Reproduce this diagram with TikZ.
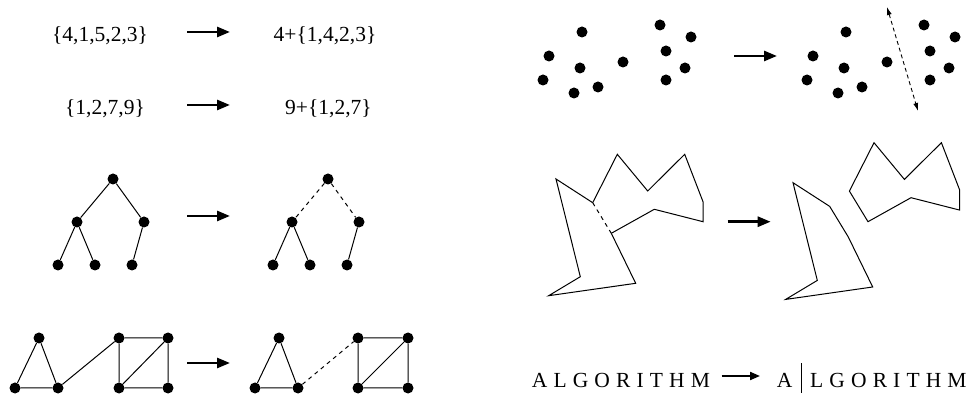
\documentclass[tikz,border=0pt]{standalone}
\usepackage{fontspec}
\setmainfont{Liberation Serif}
\usetikzlibrary{arrows.meta}
\tikzset{
  dot/.style={circle, fill=black, inner sep=0pt, minimum size=11pt},
  link/.style={line width=1pt},
  cut/.style={line width=1pt, dash pattern=on 4pt off 4pt},
  bigarrow/.style={-{Triangle[length=13pt,width=10pt]}, line width=2.7pt},
  smallarrow/.style={-{Triangle[length=10pt,width=8pt]}, line width=2pt},
  splitarrow/.style={{Latex[length=8pt,width=5pt]}-{Latex[length=8pt,width=5pt]}, line width=0.9pt, dash pattern=on 4pt off 3pt},
  setlabel/.style={font=\fontsize{21.5}{26}\selectfont, inner sep=0pt, anchor=base},
  wordlabel/.style={font=\fontsize{21.5}{26}\selectfont\addfontfeature{LetterSpace=28.5}, inner sep=0pt, anchor=base west}
}
\begin{document}
\begin{tikzpicture}[x=1pt,y=-1pt]
    \useasboundingbox (0,0) rectangle (975,395);
    % numbers
    \node[setlabel] (setA) at (100,41.7) {\{4,1,5,2,3\}};
    \node[setlabel] (pickA) at (325,41.7) {4+\{1,4,2,3\}};
    \node[setlabel] (setB) at (105,114.7) {\{1,2,7,9\}};
    \node[setlabel] (pickB) at (328.5,114.7) {9+\{1,2,7\}};
    \coordinate (arA1) at (187,32);  \coordinate (arA2) at (230,32);
    \coordinate (arB1) at (187,105); \coordinate (arB2) at (230,105);
    \draw[bigarrow] (arA1)--(arA2);
    \draw[bigarrow] (arB1)--(arB2);
    % trees
    \node[dot] (root) at (113,179) {};
    \node[dot] (midl) at (77,222) {};
    \node[dot] (midr) at (144,222) {};
    \node[dot] (leafa) at (58,265) {};
    \node[dot] (leafb) at (95,265) {};
    \node[dot] (leafc) at (132,265) {};
    \draw[link] (root)--(midl) (root)--(midr);
    \draw[link] (midl)--(leafa) (midl)--(leafb) (midr)--(leafc);
    \node[dot] (root2) at (328,179) {};
    \node[dot] (midl2) at (292,222) {};
    \node[dot] (midr2) at (359,222) {};
    \node[dot] (leafa2) at (273,265) {};
    \node[dot] (leafb2) at (310,265) {};
    \node[dot] (leafc2) at (347,265) {};
    \draw[cut] (root2)--(midl2) (root2)--(midr2);
    \draw[link] (midl2)--(leafa2) (midl2)--(leafb2) (midr2)--(leafc2);
    \coordinate (arC1) at (187,216); \coordinate (arC2) at (230,216);
    \draw[bigarrow] (arC1)--(arC2);
    % graphs
    \node[dot] (tri) at (39,338) {};
    \node[dot] (tril) at (15,388) {};
    \node[dot] (trir) at (58,388) {};
    \node[dot] (sqa) at (119,338) {};
    \node[dot] (sqb) at (168,338) {};
    \node[dot] (sqc) at (119,388) {};
    \node[dot] (sqd) at (168,388) {};
    \draw[link] (tri)--(tril)--(trir)--(tri) (trir)--(sqa);
    \draw[link] (sqa)--(sqb)--(sqd)--(sqc)--(sqa) (sqc)--(sqb);
    \node[dot] (tri2) at (279,338) {};
    \node[dot] (tril2) at (255,388) {};
    \node[dot] (trir2) at (298,388) {};
    \node[dot] (sqa2) at (358,338) {};
    \node[dot] (sqb2) at (408,338) {};
    \node[dot] (sqc2) at (358,388) {};
    \node[dot] (sqd2) at (408,388) {};
    \draw[link] (tri2)--(tril2)--(trir2)--(tri2);
    \draw[link] (sqa2)--(sqb2)--(sqd2)--(sqc2)--(sqa2) (sqc2)--(sqb2);
    \draw[cut] (trir2)--(sqa2);
    \coordinate (arD1) at (187,363); \coordinate (arD2) at (230,363);
    \draw[bigarrow] (arD1)--(arD2);
    % point sets
    \foreach \dx/\set in {0/p,264/q}
      \foreach \x/\y [count=\i] in {582/32,549/56,580/68,543/80,574/93,598/87,623/62,660/25,691/37,666/51,685/68,666/80}
        \node[dot] (\set\i) at (\x+\dx,\y) {};
    \coordinate (splittop) at (887,7); \coordinate (splitbot) at (918,111);
    \draw[splitarrow] (splittop)--(splitbot);
    \coordinate (arE1) at (734,56); \coordinate (arE2) at (777,56);
    \draw[bigarrow] (arE1)--(arE2);
    % polygons
    \draw[link] (611.3,233.3)--(635.7,283.3)--(548.7,295.7)--(580.3,276.7)--(556,179)--(592.7,202.7);
    \draw[link] (592.7,202.7)--(617.3,154.3)--(647.7,191)--(684.7,154.3)--(703,201.7)--(703,221.7)--(654.3,209.3)--(611.3,233.3);
    \draw[cut] (592.7,202.7)--(611.3,233.3);
    \begin{scope}[shift={(237,3.7)}]
      \draw[link] (611.3,233.3)--(635.7,283.3)--(548.7,295.7)--(580.3,276.7)--(556,179)--(592.7,202.7)--cycle;
    \end{scope}
    \begin{scope}[shift={(256.7,-11.6)}]
      \draw[link] (592.7,202.7)--(617.3,154.3)--(647.7,191)--(684.7,154.3)--(703,201.7)--(703,221.7)--(654.3,209.3)--(611.3,233.3)--cycle;
    \end{scope}
    \coordinate (arF1) at (727.7,221.7); \coordinate (arF2) at (770.7,221.7);
    \draw[bigarrow] (arF1)--(arF2);
    % word
    \node[wordlabel] (word) at (531.7,387.3) {ALGORITHM};
    \node[wordlabel] (head) at (776.7,387.3) {A};
    \node[wordlabel] (rest) at (810,387.3) {LGORITHM};
    \coordinate (bartop) at (801.7,363.3); \coordinate (barbot) at (801.7,393.3);
    \draw[line width=1pt] (bartop)--(barbot);
    \coordinate (arG1) at (721.7,376); \coordinate (arG2) at (760,376);
    \draw[smallarrow] (arG1)--(arG2);
\end{tikzpicture}
\end{document}
